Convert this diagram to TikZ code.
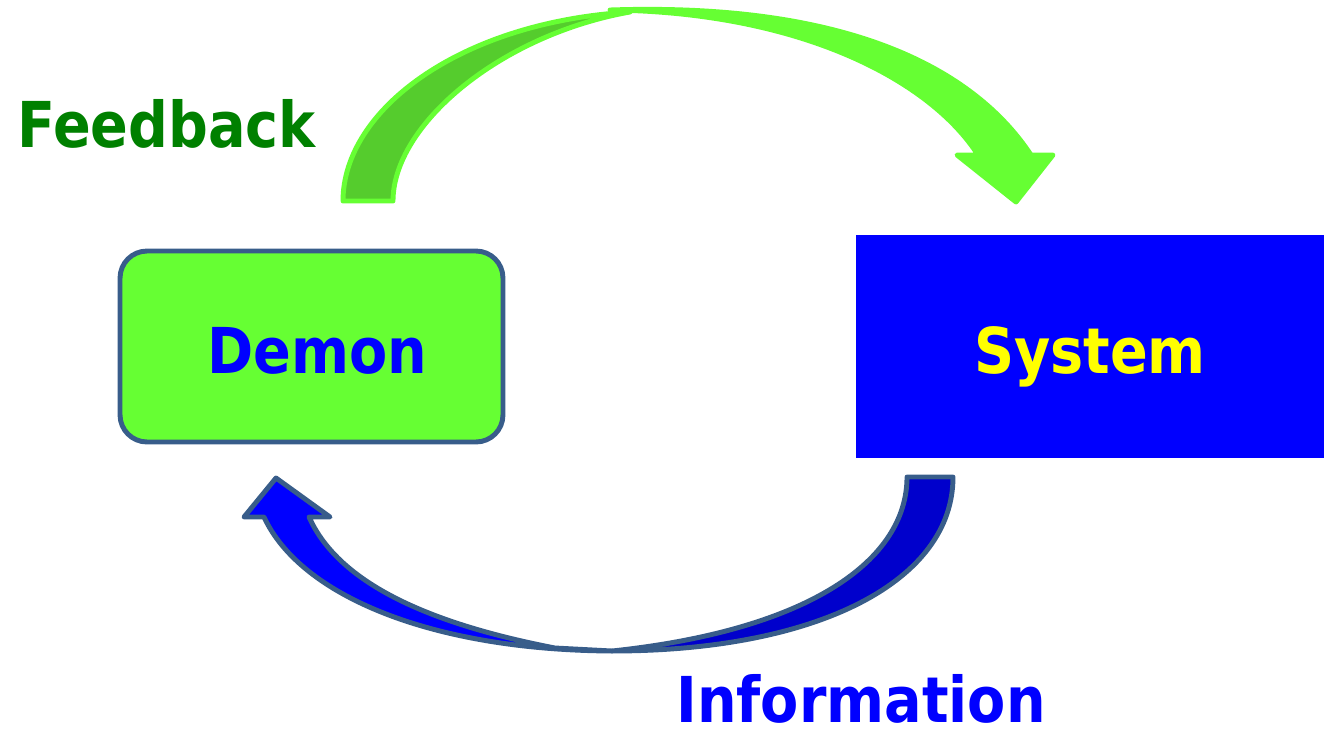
\documentclass[tikz,border=0pt]{standalone}
\usepackage{fontspec}
\newfontfamily\labelfont{DejaVu Sans}[FakeStretch=0.88]

\definecolor{DemonGreen}{HTML}{66FF33}
\definecolor{BackGreen}{HTML}{55CC2D}
\definecolor{FeedGreen}{HTML}{008000}
\definecolor{SysBlue}{HTML}{0000FF}
\definecolor{BackBlue}{HTML}{0000CC}
\definecolor{EdgeBlue}{HTML}{385D8A}
\definecolor{SysYellow}{HTML}{FFFF00}

\begin{document}
\begin{tikzpicture}[x=0.02cm, y=-0.02cm,
  bigtext/.style={font=\labelfont\bfseries\fontsize{36}{40}\selectfont, inner sep=0pt, text depth=0pt},
  boxtext/.style={bigtext, text height=1.06cm},
  greenedge/.style={draw=DemonGreen, line width=2.8pt, line join=round},
  blueedge/.style={draw=EdgeBlue, line width=2.8pt, line join=round}]

 \useasboundingbox (0,0) rectangle (1324,730) ;

  %%%%%%%%%% The two boxes %%%%%%%%%%
 \node [boxtext, rectangle, rounded corners=0.54cm, draw=EdgeBlue, line width=2.8pt, fill=DemonGreen,
        minimum width=7.66cm, minimum height=3.82cm, text=SysBlue] (demon) at (311.5,346.5) {\hspace{0.22cm}Demon} ;
 \node [boxtext, rectangle, fill=SysBlue, minimum width=9.36cm, minimum height=4.46cm,
        text=SysYellow] (system) at (1090,346.5) {System} ;

  %%%%%%%%%% Points for the feedback arrow %%%%%%%%%%
 \coordinate (f1) at (343,201) ;
 \coordinate (f2) at (393,201) ;
 \coordinate (f3) at (630,12) ;
 \coordinate (f4) at (610,10) ;
 \coordinate (f5) at (1031,155) ;
 \coordinate (f6) at (1053,155) ;
 \coordinate (f7) at (1016,202) ;
 \coordinate (f8) at (957,155) ;
 \coordinate (f9) at (978,155) ;

 % back side
 \draw [greenedge, fill=BackGreen] (f1) .. controls (343,110) and (460,22) .. (f3)
       .. controls (500,35) and (393,125) .. (f2) -- cycle ;
 % front side with head
 \draw [greenedge, fill=DemonGreen] (f4) .. controls (850,2) and (975,70) .. (f5)
       -- (f6) -- (f7) -- (f8) -- (f9) .. controls (930,80) and (800,12) .. (f4) -- cycle ;

  %%%%%%%%%% Points for the information arrow %%%%%%%%%%
 \coordinate (i1) at (953,477) ;
 \coordinate (i2) at (907,477) ;
 \coordinate (i3) at (612,651) ;
 \coordinate (i4) at (264,517) ;
 \coordinate (i5) at (244,517) ;
 \coordinate (i6) at (276,478) ;
 \coordinate (i7) at (330,517) ;
 \coordinate (i8) at (309,517) ;
 \coordinate (i9) at (555,648) ;

 % back side
 \draw [blueedge, fill=BackBlue] (i1) .. controls (953,580) and (820,651) .. (i3)
       .. controls (810,630) and (907,560) .. (i2) -- cycle ;
 % front side with head
 \draw [blueedge, fill=SysBlue] (i3) .. controls (430,650) and (300,595) .. (i4)
       -- (i5) -- (i6) -- (i7) -- (i8) .. controls (335,575) and (410,620) .. (i9) -- cycle ;

  %%%%%%%%%% Labels %%%%%%%%%%
 \node [bigtext, text=FeedGreen, anchor=base] (feedback) at (166.5,147) {Feedback} ;
 \node [bigtext, text=SysBlue, anchor=base] (information) at (861,722) {Information} ;

\end{tikzpicture}
\end{document}
